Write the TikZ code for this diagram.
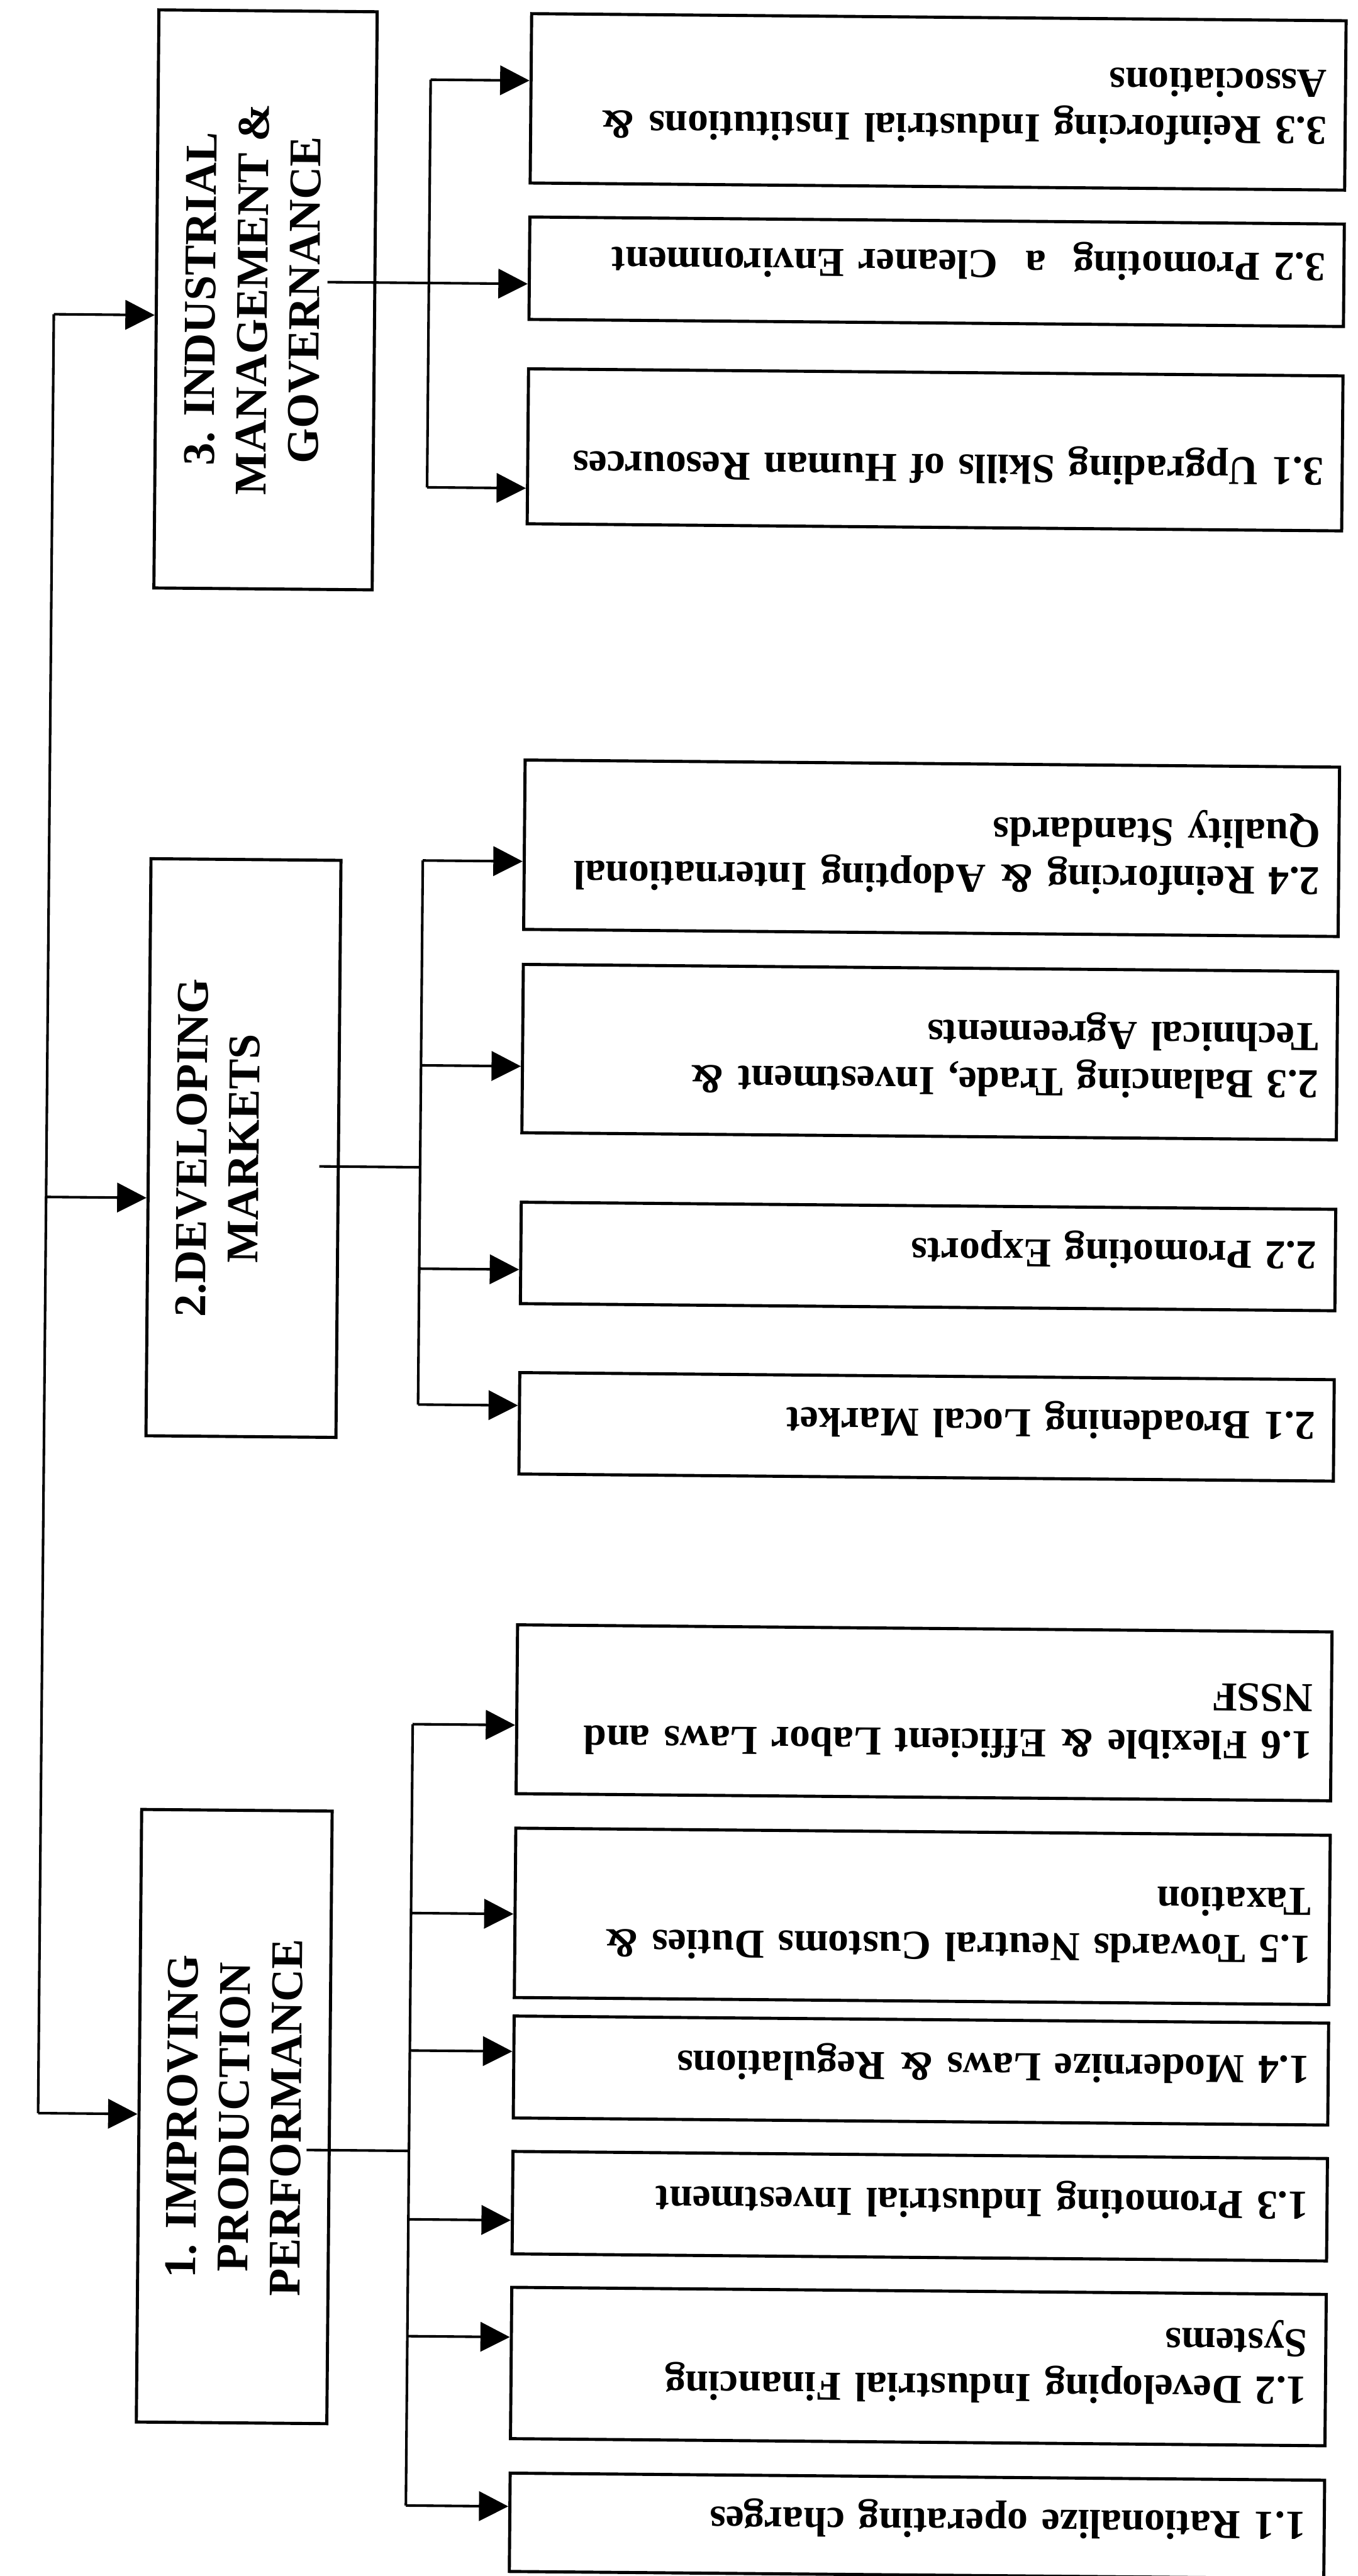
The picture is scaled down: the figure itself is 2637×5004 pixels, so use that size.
\documentclass[tikz,border=0pt]{standalone}
\usepackage{fontspec}
\setmainfont{Liberation Serif}
\usetikzlibrary{arrows.meta}
\newcommand\childfont{\fontsize{16}{18.4}\selectfont\bfseries}
\newcommand\headfont{\fontsize{17.6}{20.2}\selectfont\bfseries}
\begin{document}
\begin{tikzpicture}[x=0.2pt,y=-0.2pt,
 cbox/.style={draw,line width=1.2pt,minimum width=316.4pt,inner sep=0pt},
 mbox/.style={draw,line width=1.2pt,inner sep=0pt},
 ctext/.style={rotate=180,anchor=north west,inner sep=0pt,text width=320pt,align=left,font=\childfont},
 mtext/.style={rotate=90,inner sep=0pt,align=center,font=\headfont},
 conn/.style={line width=1pt},
 arr/.style={line width=1pt,-{Triangle[length=11.4pt,width=11.4pt]}}]
\useasboundingbox (0,0) rectangle (2637,5004);
\fill[white] (0,0) rectangle (2637,5004);
\begin{scope}[rotate around={-0.5:(1318,2502)},transform shape]
% main boxes
\node[mbox,minimum width=84.8pt,minimum height=224.6pt] (m3) at (499,589.5) {};
\node[mtext] (n3) at (474,589) {3. INDUSTRIAL\\MANAGEMENT \&\\GOVERNANCE};
\node[mbox,minimum width=73.8pt,minimum height=224.2pt] (m2) at (470.5,2237.5) {};
\node[mtext] (n2) at (421,2238) {2.DEVELOPING\\MARKETS};
\node[mbox,minimum width=74pt,minimum height=238pt] (m1) at (469,4119) {};
\node[mtext] (n1) at (469,4120) {1. IMPROVING\\PRODUCTION\\PERFORMANCE};
% child boxes
\node[cbox,minimum height=65.8pt] (c33) at (1802,193.5) {};
\node[cbox,minimum height=39.8pt] (c32) at (1802,523.5) {};
\node[cbox,minimum height=60.2pt] (c31) at (1802,869.5) {};
\node[cbox,minimum height=65.8pt] (c24) at (1802,1643.5) {};
\node[cbox,minimum height=65.4pt] (c23) at (1802,2039.5) {};
\node[cbox,minimum height=39.4pt] (c22) at (1802,2436.5) {};
\node[cbox,minimum height=39.4pt] (c21) at (1802,2767.5) {};
\node[cbox,minimum height=65.6pt] (c16) at (1802,3323) {};
\node[cbox,minimum height=65.8pt] (c15) at (1802,3718.5) {};
\node[cbox,minimum height=39.6pt] (c14) at (1802,4018) {};
\node[cbox,minimum height=39.8pt] (c13) at (1802,4281.5) {};
\node[cbox,minimum height=58.8pt] (c12) at (1802,4593) {};
\node[cbox,minimum height=38.2pt] (c11) at (1802,4902.5) {};
% child texts
\node[ctext] (x33) at (2558,282) {\strut\makebox[302.4pt][s]{3.3 Reinforcing Industrial Institutions \&}\\Associations};
\node[ctext] (x32) at (2558,547) {\strut 3.2 Promoting~~a~~Cleaner Environment};
\node[ctext] (x31) at (2558,944) {\strut 3.1 Upgrading Skills of Human Resources};
\node[ctext] (x24) at (2558,1740) {\strut 2.4 Reinforcing \& Adopting International\\Quality Standards};
\node[ctext] (x23) at (2558,2135) {\strut 2.3 Balancing Trade, Investment \&\\Technical Agreements};
\node[ctext] (x22) at (2558,2467) {\strut 2.2 Promoting Exports};
\node[ctext] (x21) at (2558,2798) {\strut 2.1 Broadening Local Market};
\node[ctext] (x16) at (2558,3419) {\strut 1.6 Flexible \& Efficient Labor Laws and\\NSSF};
\node[ctext] (x15) at (2558,3815) {\strut 1.5 Towards Neutral Customs Duties \&\\Taxation};
\node[ctext] (x14) at (2558,4049) {\strut 1.4 Modernize Laws \& Regulations};
\node[ctext] (x13) at (2558,4313) {\strut 1.3 Promoting Industrial Investment};
\node[ctext] (x12) at (2558,4672) {\strut 1.2 Developing Industrial Financing\\Systems};
\node[ctext] (x11) at (2558,4935) {\strut 1.1 Rationalize operating charges};
% trunk
\coordinate (t3) at (88,621);
\coordinate (t2) at (88,2336);
\coordinate (t1) at (88,4116);
\draw[conn] (t3) -- (t1);
\draw[arr] (t3) -- (t3 -| m3.west);
\draw[arr] (t2) -- (t2 -| m2.west);
\draw[arr] (t1) -- (t1 -| m1.west);
% group 3
\coordinate (s3) at (619,554);
\coordinate (b33) at (816,159);
\coordinate (b32) at (816,554);
\coordinate (b31) at (816,951);
\draw[conn] (b33) -- (b31);
\draw[conn] (s3) -- (b32);
\draw[arr] (b33) -- (b33 -| c33.west);
\draw[arr] (b32) -- (b32 -| c32.west);
\draw[arr] (b31) -- (b31 -| c31.west);
% group 2
\coordinate (s2) at (618,2272);
\coordinate (j2) at (814,2272);
\coordinate (b24) at (814,1676);
\coordinate (b23) at (814,2074);
\coordinate (b22) at (814,2469);
\coordinate (b21) at (814,2733);
\draw[conn] (b24) -- (b21);
\draw[conn] (s2) -- (j2);
\draw[arr] (b24) -- (b24 -| c24.west);
\draw[arr] (b23) -- (b23 -| c23.west);
\draw[arr] (b22) -- (b22 -| c22.west);
\draw[arr] (b21) -- (b21 -| c21.west);
% group 1
\coordinate (s1) at (610,4183);
\coordinate (j1) at (809,4183);
\coordinate (b16) at (809,3354);
\coordinate (b15) at (809,3721);
\coordinate (b14) at (809,3988);
\coordinate (b13) at (809,4316);
\coordinate (b12) at (809,4543);
\coordinate (b11) at (809,4872);
\draw[conn] (b16) -- (b11);
\draw[conn] (s1) -- (j1);
\draw[arr] (b16) -- (b16 -| c16.west);
\draw[arr] (b15) -- (b15 -| c15.west);
\draw[arr] (b14) -- (b14 -| c14.west);
\draw[arr] (b13) -- (b13 -| c13.west);
\draw[arr] (b12) -- (b12 -| c12.west);
\draw[arr] (b11) -- (b11 -| c11.west);
\end{scope}
\end{tikzpicture}
\end{document}
